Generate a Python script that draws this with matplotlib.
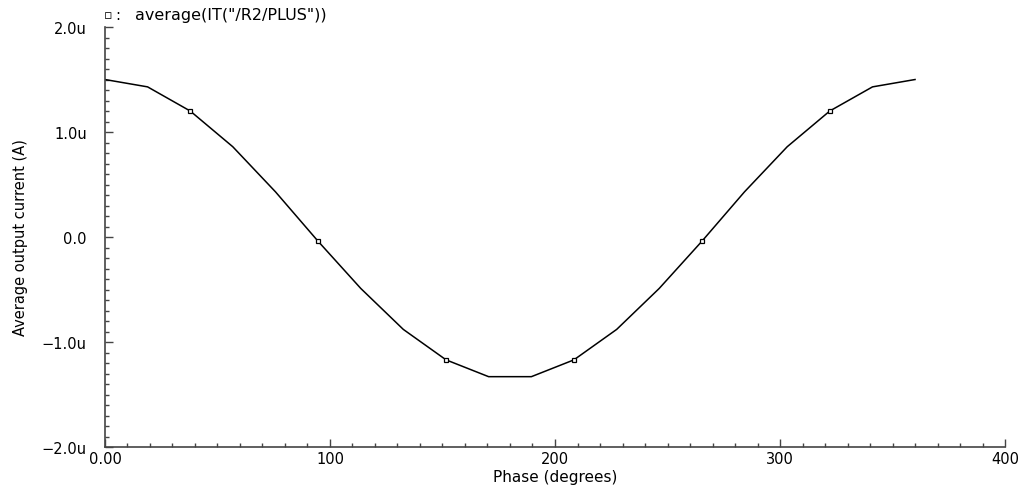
import matplotlib.pyplot as plt
from matplotlib.ticker import MultipleLocator

# --- data ---
phase_deg = [0.0, 18.95, 37.9, 56.8, 75.8, 94.7, 113.7, 132.6, 151.6, 170.5,
             189.5, 208.4, 227.4, 246.3, 265.3, 284.2, 303.2, 322.1, 341.1, 360.0]
avg_current_uA = [1.50, 1.43, 1.20, 0.86, 0.43, -0.04, -0.49, -0.88, -1.17, -1.33,
                  -1.33, -1.17, -0.88, -0.49, -0.04, 0.43, 0.86, 1.20, 1.43, 1.50]
marker_idx = [2, 5, 8, 11, 14, 17]

x_ticks = [0, 100, 200, 300, 400]
x_tick_labels = ['0.00', '100', '200', '300', '400']
y_ticks = [-2.0, -1.0, 0.0, 1.0, 2.0]
y_tick_labels = ['\u22122.0u', '\u22121.0u', '0.0', '1.0u', '2.0u']

plt.rcParams['font.family'] = ['DejaVu Sans']
fs = 10.5

fig = plt.figure(figsize=(10.34, 4.89), dpi=100)
ax = fig.add_axes([0.1015, 0.0838, 0.8705, 0.8589])

ax.plot(phase_deg, avg_current_uA, color='black', linewidth=1.1,
        marker='s', markersize=3.2, markerfacecolor='white',
        markeredgecolor='black', markeredgewidth=0.9, markevery=marker_idx)

ax.set_xlim(0, 400)
ax.set_ylim(-2.0, 2.0)
ax.set_xticks(x_ticks)
ax.set_xticklabels(x_tick_labels)
ax.set_yticks(y_ticks)
ax.set_yticklabels(y_tick_labels)
ax.xaxis.set_minor_locator(MultipleLocator(10))
ax.yaxis.set_minor_locator(MultipleLocator(0.1))

ax.tick_params(which='major', direction='in', length=6, width=1, color='#444444',
               labelsize=fs, pad=3)
ax.tick_params(axis='y', which='major', pad=13)
ax.tick_params(which='minor', direction='in', length=3, width=1, color='#444444')

for side in ['top', 'right']:
    ax.spines[side].set_visible(False)
for side in ['left', 'bottom']:
    ax.spines[side].set_color('#444444')
    ax.spines[side].set_linewidth(1.2)

ax.set_xlabel('Phase (degrees)', fontsize=11, va='center')
ax.set_ylabel('Average output current (A)', fontsize=fs, va='center')
ax.xaxis.set_label_coords(0.5, -0.071)
ax.yaxis.set_label_coords(-0.094, 0.5)

# legend-like caption at the top
fig.text(0.1045, 0.969, '\u25ab', fontsize=9, ha='center', va='center')
fig.text(0.1135, 0.969, ':', fontsize=fs, ha='center', va='center')
fig.text(0.1305, 0.969, 'average(IT("/R2/PLUS"))', fontsize=11.5,
         ha='left', va='center')

fig.savefig('out.png', dpi=100)
